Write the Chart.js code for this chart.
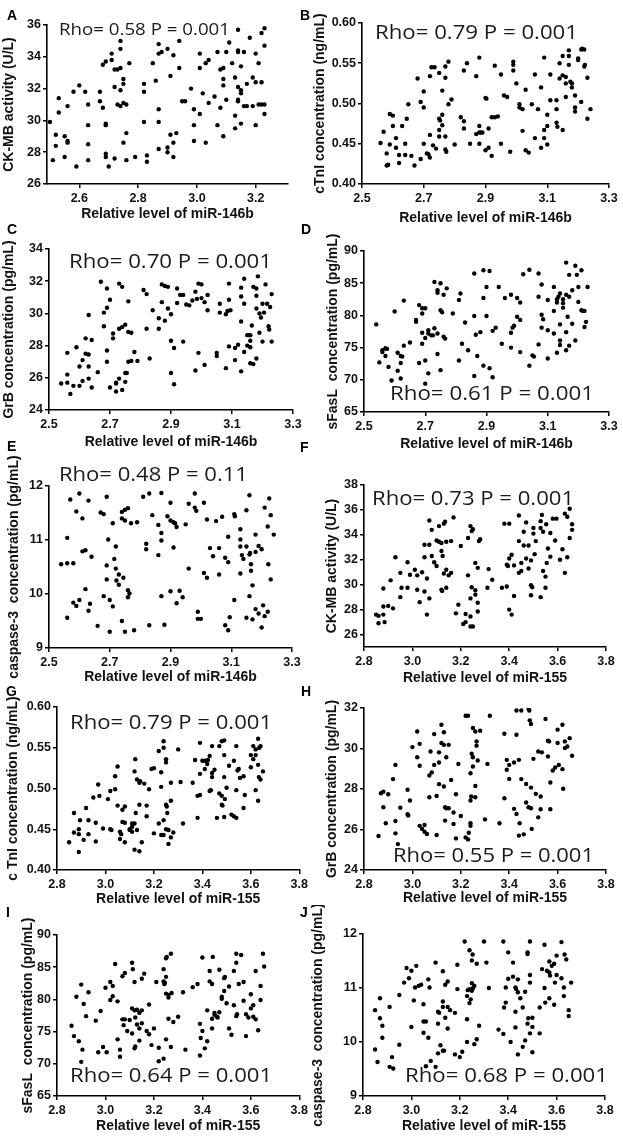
<!DOCTYPE html>
<html><head><meta charset="utf-8">
<script src="https://cdn.jsdelivr.net/npm/chart.js@4.4.1/dist/chart.umd.min.js"></script>
<style>
html,body{margin:0;padding:0;background:#fff;}
body{width:623px;height:1144px;position:relative;overflow:hidden;}
canvas{position:absolute;}
.lab{position:absolute;font:bold 14px "Liberation Sans",Arial,sans-serif;line-height:1;color:#000;}
.rho{position:absolute;font-family:"Open Sans",sans-serif;line-height:1;color:#1a1a1a;white-space:pre;transform-origin:0 0;}
</style></head><body>
<script>
// ---------- DATA ----------
const xTitle146b = "Relative level of miR-146b";
const xTitle155 = "Relative level of miR-155";
const yTitles = ["CK-MB activity (U/L)","cTnI concentration (ng/mL)","GrB concentration (pg/mL)","sFasL  concentration (pg/mL)","caspase-3  concentration (pg/mL)","CK-MB activity (U/L)","c TnI concentration (ng/mL)","GrB concentration (pg/mL)","sFasL  concentration (pg/mL)","caspase-3  concentration (pg/mL)"];
const panelLetters = ["A","B","C","D","E","F","G","H","I","J"];
const rhoTexts = ["Rho= 0.58 P = 0.001","Rho= 0.79 P = 0.001","Rho= 0.70 P = 0.001","Rho= 0.61 P = 0.001","Rho= 0.48 P = 0.11","Rho= 0.73 P = 0.001","Rho= 0.79 P = 0.001","Rho= 0.55 P = 0.001","Rho= 0.64 P = 0.001","Rho= 0.68 P = 0.001"];

const xTicksA = [2.6,2.8,3.0,3.2];
const xTicks146b = [2.5,2.7,2.9,3.1,3.3];
const xTicks155 = [2.8,3.0,3.2,3.4,3.6,3.8];
const yTicksCKMB146 = [26,28,30,32,34,36];
const yTicksCTnI = [0.40,0.45,0.50,0.55,0.60];
const yTicksGrB146 = [24,26,28,30,32,34];
const yTicksSFasL = [65,70,75,80,85,90];
const yTicksCasp = [9,10,11,12];
const yTicksCKMB155 = [26,28,30,32,34,36,38];
const yTicksGrB155 = [24,26,28,30,32];

const ckmb_146b = [[2.50,29.9],[2.51,27.5],[2.52,29.1],[2.52,28.4],[2.53,31.4],[2.53,30.5],[2.55,29.0],[2.55,27.7],[2.56,28.7],[2.56,30.9],[2.56,28.6],[2.58,31.8],[2.59,27.1],[2.60,32.2],[2.62,31.8],[2.63,31.0],[2.63,29.7],[2.63,28.5],[2.63,27.5],[2.67,31.8],[2.67,31.2],[2.68,33.5],[2.69,33.7],[2.71,33.8],[2.71,34.2],[2.68,30.8],[2.69,29.8],[2.69,29.7],[2.69,27.9],[2.69,27.7],[2.70,27.1],[2.72,33.2],[2.72,32.1],[2.73,33.2],[2.73,31.0],[2.74,30.9],[2.74,31.9],[2.74,35.0],[2.74,34.5],[2.74,33.3],[2.75,32.6],[2.75,32.3],[2.75,28.6],[2.75,31.1],[2.76,31.0],[2.76,29.2],[2.77,33.6],[2.76,27.5],[2.72,27.6],[2.79,27.7],[2.82,32.3],[2.82,31.8],[2.82,29.9],[2.83,27.4],[2.83,27.8],[2.85,33.6],[2.86,32.5],[2.87,34.2],[2.87,34.8],[2.87,30.7],[2.87,29.9],[2.87,28.2],[2.88,34.3],[2.90,34.5],[2.90,28.0],[2.90,28.3],[2.91,32.8],[2.91,29.1],[2.92,28.6],[2.92,34.1],[2.92,27.7],[2.93,29.2],[2.94,35.0],[2.94,33.3],[2.95,31.2],[2.96,31.2],[2.98,32.0],[2.99,29.7],[2.99,30.7],[2.99,28.7],[3.01,34.2],[3.01,33.3],[3.01,30.4],[3.02,31.7],[3.03,28.6],[3.03,33.6],[3.04,33.8],[3.04,31.1],[3.06,31.5],[3.07,29.7],[3.07,34.3],[3.08,30.8],[3.08,33.2],[3.09,32.2],[3.09,33.3],[3.09,32.6],[3.09,29.0],[3.10,31.3],[3.10,34.3],[3.11,34.9],[3.12,33.6],[3.13,30.3],[3.13,32.7],[3.13,29.5],[3.14,35.7],[3.14,34.4],[3.14,34.3],[3.14,31.3],[3.14,31.2],[3.14,32.1],[3.15,29.8],[3.15,33.4],[3.15,31.9],[3.15,31.7],[3.16,34.3],[3.16,30.9],[3.17,30.9],[3.17,32.3],[3.18,35.2],[3.19,30.9],[3.19,32.7],[3.20,34.2],[3.20,29.7],[3.21,33.6],[3.20,32.4],[3.21,31.0],[3.22,31.0],[3.23,31.0],[3.22,35.5],[3.22,32.4],[3.23,34.7],[3.23,30.4],[3.23,35.8]];

const ctni_146b = [[2.56,0.451],[2.57,0.465],[2.58,0.438],[2.58,0.423],[2.585,0.424],[2.59,0.449],[2.59,0.487],[2.60,0.485],[2.60,0.472],[2.61,0.457],[2.61,0.445],[2.62,0.436],[2.62,0.426],[2.63,0.472],[2.64,0.450],[2.64,0.436],[2.645,0.481],[2.65,0.499],[2.66,0.435],[2.67,0.423],[2.68,0.531],[2.69,0.502],[2.69,0.431],[2.70,0.515],[2.70,0.450],[2.70,0.495],[2.71,0.438],[2.715,0.437],[2.72,0.534],[2.72,0.461],[2.72,0.433],[2.725,0.545],[2.735,0.545],[2.73,0.448],[2.74,0.444],[2.75,0.538],[2.75,0.481],[2.753,0.479],[2.75,0.467],[2.75,0.459],[2.76,0.516],[2.76,0.473],[2.76,0.486],[2.77,0.546],[2.77,0.532],[2.77,0.459],[2.77,0.443],[2.773,0.440],[2.78,0.552],[2.78,0.499],[2.79,0.505],[2.80,0.449],[2.82,0.483],[2.83,0.469],[2.83,0.478],[2.83,0.541],[2.84,0.550],[2.85,0.450],[2.87,0.462],[2.87,0.534],[2.88,0.557],[2.88,0.472],[2.88,0.450],[2.88,0.464],[2.885,0.464],[2.89,0.464],[2.90,0.507],[2.903,0.506],[2.90,0.442],[2.91,0.445],[2.91,0.469],[2.92,0.483],[2.92,0.435],[2.93,0.483],[2.94,0.484],[2.93,0.547],[2.95,0.536],[2.95,0.450],[2.96,0.510],[2.97,0.508],[2.98,0.440],[2.99,0.548],[2.99,0.552],[2.99,0.541],[3.00,0.525],[3.01,0.499],[3.01,0.495],[3.02,0.466],[3.02,0.493],[3.03,0.517],[3.03,0.442],[3.04,0.439],[3.05,0.499],[3.06,0.536],[3.06,0.457],[3.07,0.493],[3.08,0.520],[3.08,0.445],[3.09,0.557],[3.09,0.457],[3.09,0.467],[3.10,0.472],[3.10,0.449],[3.10,0.486],[3.11,0.504],[3.11,0.536],[3.13,0.504],[3.13,0.493],[3.13,0.476],[3.133,0.471],[3.14,0.550],[3.14,0.531],[3.15,0.559],[3.15,0.467],[3.15,0.535],[3.16,0.533],[3.16,0.508],[3.16,0.525],[3.17,0.548],[3.17,0.559],[3.17,0.566],[3.175,0.527],[3.18,0.520],[3.18,0.525],[3.19,0.490],[3.19,0.495],[3.19,0.510],[3.20,0.554],[3.20,0.556],[3.21,0.567],[3.21,0.502],[3.213,0.568],[3.22,0.546],[3.22,0.567],[3.222,0.548],[3.23,0.532],[3.23,0.481],[3.24,0.493]];

const grb_146b = [[2.54,25.65],[2.56,26.2],[2.56,27.55],[2.56,25.7],[2.57,25.0],[2.58,25.5],[2.59,27.9],[2.60,25.5],[2.60,26.7],[2.61,25.8],[2.61,27.1],[2.62,27.5],[2.62,28.45],[2.63,27.45],[2.63,26.7],[2.63,25.95],[2.63,29.9],[2.64,28.35],[2.64,25.4],[2.66,26.35],[2.67,31.97],[2.68,29.2],[2.68,30.05],[2.69,31.55],[2.69,30.35],[2.69,27.7],[2.69,27.0],[2.70,30.85],[2.70,25.4],[2.71,28.75],[2.71,28.45],[2.72,25.7],[2.72,25.15],[2.72,25.65],[2.73,29.05],[2.73,31.85],[2.73,25.95],[2.74,29.15],[2.74,31.65],[2.74,25.25],[2.75,26.3],[2.755,26.3],[2.75,29.3],[2.75,25.75],[2.76,28.85],[2.76,30.75],[2.76,27.0],[2.77,28.8],[2.77,27.05],[2.78,27.6],[2.79,27.05],[2.81,31.45],[2.82,31.2],[2.82,29.05],[2.83,27.2],[2.84,30.2],[2.86,29.7],[2.86,29.05],[2.87,31.8],[2.88,29.55],[2.88,31.7],[2.87,30.7],[2.89,31.65],[2.89,30.3],[2.90,29.95],[2.90,26.3],[2.90,28.3],[2.91,25.6],[2.91,27.85],[2.92,30.65],[2.92,31.55],[2.93,31.15],[2.94,31.15],[2.94,28.25],[2.95,30.55],[2.96,30.5],[2.97,30.8],[2.98,31.35],[2.98,26.45],[2.985,30.9],[2.99,31.85],[2.99,27.55],[3.00,31.8],[3.00,30.95],[3.01,26.8],[3.01,30.7],[3.02,31.15],[3.02,30.2],[3.05,27.35],[3.05,27.55],[3.06,30.6],[3.06,30.05],[3.08,26.6],[3.08,29.95],[3.085,30.15],[3.09,30.85],[3.09,27.95],[3.09,31.85],[3.095,30.2],[3.11,27.85],[3.12,28.05],[3.11,27.1],[3.13,31.6],[3.13,31.05],[3.13,29.5],[3.14,27.6],[3.13,26.4],[3.14,32.15],[3.14,30.6],[3.15,28.65],[3.155,28.65],[3.15,28.0],[3.16,28.65],[3.16,28.3],[3.16,27.9],[3.165,29.25],[3.16,26.9],[3.17,26.85],[3.17,31.65],[3.18,31.1],[3.18,31.55],[3.18,27.2],[3.18,30.3],[3.185,32.3],[3.19,28.8],[3.19,30.0],[3.195,29.75],[3.20,30.6],[3.20,28.25],[3.205,30.05],[3.21,31.8],[3.215,30.6],[3.22,29.2],[3.222,29.0],[3.225,30.4],[3.23,31.2],[3.23,28.25]];

const sfasl_146b = [[2.54,78.6],[2.55,72.7],[2.56,74.3],[2.56,74.6],[2.57,74.9],[2.57,73.7],[2.575,74.8],[2.58,72.0],[2.59,69.9],[2.60,80.6],[2.61,71.4],[2.61,74.2],[2.62,73.7],[2.62,72.6],[2.625,73.6],[2.62,70.2],[2.63,75.3],[2.63,82.3],[2.65,75.8],[2.67,79.0],[2.67,79.3],[2.68,72.6],[2.68,81.6],[2.69,81.1],[2.69,80.3],[2.69,77.3],[2.69,75.6],[2.70,76.5],[2.70,73.0],[2.70,81.1],[2.70,69.4],[2.71,77.7],[2.71,77.2],[2.71,71.0],[2.72,76.9],[2.725,76.9],[2.73,78.0],[2.73,85.2],[2.74,83.9],[2.74,83.5],[2.74,77.2],[2.74,74.0],[2.75,85.0],[2.75,80.8],[2.75,71.5],[2.755,80.5],[2.76,76.7],[2.76,83.2],[2.765,76.4],[2.77,84.2],[2.79,80.3],[2.81,82.4],[2.81,73.0],[2.815,83.4],[2.82,75.6],[2.83,78.9],[2.84,74.6],[2.86,86.5],[2.86,70.6],[2.865,77.0],[2.86,79.9],[2.87,73.7],[2.88,77.4],[2.89,87.0],[2.89,82.7],[2.89,72.2],[2.90,84.4],[2.90,79.9],[2.91,86.9],[2.91,71.8],[2.92,70.4],[2.92,77.6],[2.93,78.1],[2.94,84.4],[2.95,75.6],[2.96,82.7],[2.98,83.2],[2.98,77.3],[2.985,78.1],[2.99,78.4],[2.98,75.0],[3.00,82.7],[3.00,79.8],[3.01,79.3],[3.01,82.0],[3.01,74.3],[3.02,86.4],[3.04,87.1],[3.04,72.2],[3.05,73.8],[3.055,73.6],[3.07,82.9],[3.07,75.5],[3.07,86.5],[3.08,80.1],[3.08,84.8],[3.085,79.4],[3.08,78.1],[3.10,73.3],[3.10,77.7],[3.10,82.4],[3.12,80.7],[3.12,84.4],[3.12,77.2],[3.13,82.0],[3.13,82.5],[3.135,82.9],[3.13,74.2],[3.14,83.4],[3.14,76.1],[3.14,78.6],[3.14,75.4],[3.15,81.9],[3.15,81.2],[3.15,82.5],[3.16,83.2],[3.16,74.6],[3.16,77.4],[3.165,79.8],[3.16,88.2],[3.17,86.3],[3.17,82.9],[3.17,75.3],[3.18,78.7],[3.18,83.9],[3.19,76.1],[3.19,87.7],[3.195,86.3],[3.20,84.4],[3.20,82.1],[3.21,80.8],[3.21,87.0],[3.215,80.7],[3.22,78.2],[3.22,80.7],[3.225,79.0],[3.23,84.4]];

const casp_146b = [[2.54,10.55],[2.56,10.57],[2.56,11.04],[2.56,9.56],[2.57,11.75],[2.58,9.84],[2.58,10.57],[2.59,9.78],[2.59,11.53],[2.60,11.86],[2.60,9.89],[2.61,11.40],[2.61,10.79],[2.62,10.81],[2.62,10.09],[2.63,11.73],[2.63,9.69],[2.635,9.82],[2.64,10.69],[2.66,9.41],[2.67,11.51],[2.68,11.48],[2.68,9.96],[2.69,10.53],[2.69,10.27],[2.69,11.80],[2.695,11.01],[2.70,9.89],[2.70,9.30],[2.71,9.77],[2.71,11.31],[2.715,10.65],[2.72,10.47],[2.72,10.88],[2.722,10.25],[2.73,10.36],[2.73,10.17],[2.74,11.52],[2.74,11.40],[2.745,10.30],[2.74,9.50],[2.75,11.36],[2.75,11.56],[2.75,9.30],[2.76,10.07],[2.76,11.59],[2.76,9.94],[2.765,10.01],[2.77,11.31],[2.78,9.33],[2.79,11.33],[2.81,11.80],[2.82,10.83],[2.82,10.93],[2.83,11.86],[2.83,9.42],[2.84,11.46],[2.86,10.72],[2.86,11.28],[2.87,11.13],[2.87,10.99],[2.87,11.87],[2.87,9.96],[2.88,9.43],[2.89,11.44],[2.90,11.69],[2.90,10.05],[2.90,11.36],[2.91,10.86],[2.91,11.33],[2.915,11.31],[2.92,11.24],[2.92,9.83],[2.93,10.06],[2.94,9.94],[2.95,11.29],[2.96,10.47],[2.96,11.67],[2.98,11.86],[2.98,11.60],[2.985,11.54],[2.99,9.67],[2.99,9.54],[3.00,9.54],[3.01,10.39],[3.01,11.69],[3.02,10.30],[3.02,11.38],[3.03,10.85],[3.04,10.70],[3.05,11.35],[3.06,10.85],[3.06,10.36],[3.07,11.43],[3.08,9.42],[3.08,10.67],[3.09,10.59],[3.09,11.06],[3.09,9.33],[3.095,9.57],[3.11,11.48],[3.112,11.44],[3.11,9.89],[3.13,11.20],[3.13,11.01],[3.13,10.88],[3.135,10.72],[3.13,10.38],[3.14,10.65],[3.15,11.55],[3.15,10.88],[3.15,9.56],[3.16,10.73],[3.16,11.83],[3.162,10.76],[3.16,9.96],[3.165,10.55],[3.165,10.43],[3.17,9.53],[3.17,10.16],[3.18,11.10],[3.18,9.72],[3.18,10.78],[3.19,9.64],[3.19,10.89],[3.20,10.83],[3.20,9.38],[3.205,9.79],[3.21,9.59],[3.21,11.60],[3.22,11.25],[3.22,9.67],[3.222,10.55],[3.225,11.77],[3.23,11.46],[3.23,10.27],[3.24,11.10]];

const ckmb_155 = [[2.85,27.6],[2.86,26.9],[2.86,27.5],[2.88,28.25],[2.88,29.7],[2.88,27.6],[2.885,27.0],[2.90,28.3],[2.91,30.35],[2.92,28.1],[2.93,32.2],[2.95,30.95],[2.95,29.0],[2.955,29.75],[2.98,29.75],[2.98,31.8],[2.99,30.8],[3.01,31.2],[3.02,30.75],[3.02,29.6],[3.03,28.6],[3.04,31.0],[3.05,32.2],[3.05,33.2],[3.05,29.45],[3.06,30.5],[3.06,27.6],[3.07,33.2],[3.07,28.9],[3.07,35.15],[3.08,34.4],[3.08,32.3],[3.09,31.8],[3.10,33.55],[3.10,31.5],[3.11,34.7],[3.11,33.45],[3.12,29.6],[3.123,29.5],[3.12,33.35],[3.12,32.7],[3.125,32.3],[3.13,34.9],[3.13,30.9],[3.135,35.05],[3.14,33.45],[3.14,29.75],[3.14,31.2],[3.15,30.75],[3.16,30.95],[3.16,33.5],[3.17,35.4],[3.18,27.7],[3.19,28.4],[3.20,33.1],[3.21,26.85],[3.22,27.0],[3.22,27.65],[3.23,33.75],[3.23,30.75],[3.24,28.9],[3.24,26.65],[3.24,27.45],[3.24,34.7],[3.245,34.3],[3.245,29.8],[3.25,26.65],[3.25,34.45],[3.26,31.75],[3.26,29.55],[3.26,29.2],[3.27,31.35],[3.27,27.85],[3.27,28.55],[3.275,33.5],[3.28,33.65],[3.31,29.75],[3.315,31.25],[3.33,30.4],[3.37,29.75],[3.38,34.9],[3.39,29.85],[3.39,31.6],[3.395,31.5],[3.40,34.9],[3.40,28.0],[3.40,32.1],[3.41,32.4],[3.41,27.6],[3.42,29.1],[3.42,31.55],[3.44,35.55],[3.44,33.5],[3.44,30.95],[3.45,31.75],[3.45,31.1],[3.46,33.15],[3.46,34.25],[3.47,32.1],[3.47,35.0],[3.48,33.15],[3.48,31.3],[3.49,31.95],[3.49,29.95],[3.49,29.15],[3.495,29.8],[3.50,34.1],[3.50,34.55],[3.505,32.45],[3.51,33.5],[3.53,34.55],[3.53,35.1],[3.535,35.6],[3.53,29.0],[3.54,31.1],[3.54,34.25],[3.55,30.65],[3.55,29.75],[3.553,34.85],[3.555,31.75],[3.56,32.9],[3.57,32.25],[3.57,34.15],[3.58,35.3],[3.59,33.55],[3.595,35.3],[3.61,32.0],[3.62,32.85],[3.63,30.95],[3.63,35.7],[3.64,35.45],[3.64,32.2],[3.65,36.1],[3.65,33.75],[3.66,34.4],[3.66,34.85]];

const ctni_155 = [[2.85,0.434],[2.87,0.446],[2.87,0.470],[2.89,0.422],[2.89,0.450],[2.89,0.444],[2.895,0.461],[2.91,0.437],[2.92,0.476],[2.93,0.461],[2.93,0.444],[2.95,0.489],[2.96,0.458],[2.96,0.435],[2.97,0.505],[2.975,0.491],[2.99,0.451],[3.01,0.487],[3.02,0.497],[3.02,0.450],[3.025,0.449],[3.04,0.499],[3.04,0.515],[3.05,0.479],[3.05,0.527],[3.06,0.447],[3.06,0.438],[3.065,0.444],[3.07,0.474],[3.07,0.459],[3.08,0.458],[3.08,0.478],[3.08,0.434],[3.10,0.450],[3.10,0.449],[3.11,0.447],[3.11,0.457],[3.11,0.453],[3.12,0.521],[3.12,0.457],[3.12,0.425],[3.123,0.536],[3.125,0.470],[3.13,0.449],[3.13,0.511],[3.14,0.507],[3.14,0.423],[3.14,0.480],[3.143,0.509],[3.15,0.434],[3.16,0.506],[3.17,0.479],[3.17,0.466],[3.18,0.499],[3.19,0.524],[3.20,0.445],[3.20,0.525],[3.22,0.546],[3.22,0.457],[3.23,0.502],[3.23,0.520],[3.23,0.443],[3.24,0.558],[3.24,0.443],[3.24,0.550],[3.24,0.461],[3.25,0.536],[3.25,0.532],[3.25,0.480],[3.25,0.450],[3.253,0.478],[3.255,0.470],[3.26,0.432],[3.26,0.449],[3.27,0.440],[3.27,0.507],[3.27,0.485],[3.28,0.446],[3.30,0.548],[3.31,0.508],[3.32,0.457],[3.36,0.507],[3.37,0.535],[3.38,0.464],[3.38,0.491],[3.39,0.492],[3.39,0.556],[3.39,0.518],[3.40,0.534],[3.41,0.524],[3.41,0.534],[3.42,0.530],[3.423,0.535],[3.43,0.497],[3.43,0.540],[3.435,0.498],[3.44,0.519],[3.44,0.514],[3.44,0.552],[3.45,0.523],[3.46,0.464],[3.47,0.552],[3.47,0.494],[3.48,0.480],[3.48,0.491],[3.48,0.558],[3.483,0.479],[3.49,0.559],[3.49,0.514],[3.49,0.541],[3.493,0.487],[3.49,0.465],[3.50,0.501],[3.51,0.528],[3.52,0.468],[3.53,0.466],[3.53,0.534],[3.54,0.498],[3.54,0.464],[3.54,0.552],[3.545,0.522],[3.55,0.524],[3.555,0.513],[3.57,0.515],[3.57,0.476],[3.575,0.492],[3.60,0.526],[3.60,0.541],[3.61,0.552],[3.61,0.536],[3.62,0.541],[3.62,0.548],[3.62,0.498],[3.63,0.561],[3.63,0.529],[3.63,0.485],[3.633,0.514],[3.635,0.550],[3.64,0.511],[3.64,0.552],[3.65,0.521]];

const grb_155 = [[2.86,25.68],[2.87,27.79],[2.88,27.87],[2.88,27.10],[2.89,26.31],[2.90,27.74],[2.92,28.49],[2.93,29.19],[2.93,25.81],[2.93,26.42],[2.94,25.28],[2.95,27.08],[2.98,27.96],[2.98,26.75],[2.983,26.69],[2.99,27.43],[3.00,30.07],[3.02,29.57],[3.02,30.84],[3.03,30.23],[3.03,29.15],[3.03,26.18],[3.04,26.03],[3.05,26.22],[3.05,25.89],[3.06,25.78],[3.07,27.59],[3.07,28.67],[3.075,29.85],[3.08,28.82],[3.09,30.71],[3.09,29.19],[3.10,25.73],[3.10,27.66],[3.11,29.81],[3.11,29.31],[3.11,28.24],[3.12,31.17],[3.12,30.27],[3.13,30.80],[3.13,28.12],[3.13,30.18],[3.135,27.10],[3.135,26.44],[3.14,29.57],[3.14,27.05],[3.15,30.18],[3.15,27.05],[3.16,28.45],[3.17,26.27],[3.17,26.84],[3.18,25.56],[3.18,27.74],[3.19,29.24],[3.20,26.67],[3.22,31.62],[3.22,25.61],[3.23,31.62],[3.23,25.51],[3.233,25.84],[3.24,28.78],[3.24,26.18],[3.24,26.31],[3.24,27.43],[3.243,27.63],[3.245,29.74],[3.25,31.01],[3.25,29.57],[3.25,29.11],[3.26,28.15],[3.26,27.59],[3.26,30.84],[3.265,30.35],[3.265,30.14],[3.27,29.41],[3.28,30.88],[3.31,29.24],[3.30,26.50],[3.32,31.62],[3.36,26.31],[3.38,27.54],[3.38,30.73],[3.39,28.95],[3.39,29.44],[3.40,28.50],[3.40,29.19],[3.42,29.31],[3.42,27.02],[3.43,26.77],[3.43,30.68],[3.43,31.88],[3.44,25.70],[3.44,29.44],[3.443,26.31],[3.45,28.49],[3.45,31.88],[3.46,25.76],[3.47,28.25],[3.47,27.33],[3.48,31.95],[3.48,27.10],[3.483,31.88],[3.485,31.39],[3.49,31.21],[3.49,27.05],[3.49,28.07],[3.493,26.03],[3.50,29.49],[3.51,27.76],[3.52,29.85],[3.52,26.60],[3.53,27.00],[3.53,27.63],[3.535,29.81],[3.55,31.46],[3.56,30.38],[3.565,30.35],[3.56,29.61],[3.57,27.00],[3.57,28.32],[3.58,28.91],[3.59,29.06],[3.60,30.93],[3.60,30.27],[3.605,29.19],[3.62,31.17],[3.62,28.98],[3.623,28.01],[3.63,30.35],[3.63,30.02],[3.64,30.10],[3.65,30.51],[3.66,29.64]];

const sfasl_155 = [[2.86,75.9],[2.87,74.3],[2.88,80.4],[2.89,73.5],[2.90,70.3],[2.90,82.3],[2.905,72.2],[2.91,79.3],[2.92,77.4],[2.93,81.1],[2.96,76.7],[2.97,71.8],[2.98,78.2],[2.99,72.6],[3.00,81.8],[3.005,71.8],[3.02,82.7],[3.02,79.9],[3.03,82.1],[3.03,80.5],[3.04,85.5],[3.05,73.8],[3.05,79.7],[3.06,72.2],[3.06,71.1],[3.07,76.9],[3.07,83.6],[3.075,76.0],[3.08,76.9],[3.08,84.1],[3.09,75.1],[3.10,76.8],[3.11,74.7],[3.11,85.7],[3.11,78.6],[3.113,84.7],[3.12,78.3],[3.12,82.7],[3.12,72.4],[3.123,72.7],[3.123,77.2],[3.13,78.4],[3.13,76.1],[3.14,73.6],[3.14,77.9],[3.14,75.5],[3.15,78.3],[3.15,76.3],[3.15,83.2],[3.16,84.0],[3.17,75.1],[3.18,79.2],[3.18,74.6],[3.19,72.9],[3.20,75.5],[3.21,82.7],[3.22,72.5],[3.22,70.4],[3.24,84.7],[3.24,82.8],[3.24,70.8],[3.243,82.4],[3.245,82.6],[3.25,80.9],[3.25,86.4],[3.25,83.5],[3.253,86.6],[3.25,73.8],[3.26,80.7],[3.26,80.3],[3.26,77.0],[3.27,72.6],[3.27,87.1],[3.273,81.0],[3.28,76.5],[3.30,77.3],[3.32,81.1],[3.33,72.2],[3.36,81.9],[3.38,82.4],[3.39,71.3],[3.39,76.2],[3.393,74.0],[3.40,86.5],[3.40,75.1],[3.41,72.4],[3.42,78.3],[3.42,73.5],[3.43,84.4],[3.43,82.8],[3.44,82.4],[3.44,77.0],[3.44,75.5],[3.443,86.6],[3.45,77.9],[3.45,77.6],[3.46,77.3],[3.463,77.2],[3.47,78.0],[3.47,84.6],[3.48,80.4],[3.48,80.1],[3.49,81.3],[3.49,83.3],[3.493,83.5],[3.50,79.4],[3.51,75.5],[3.51,82.0],[3.52,74.5],[3.53,79.1],[3.53,84.4],[3.54,85.7],[3.54,87.1],[3.54,77.4],[3.543,77.7],[3.55,82.4],[3.56,86.9],[3.57,79.8],[3.57,82.7],[3.58,77.7],[3.58,74.3],[3.59,77.2],[3.60,80.8],[3.60,78.6],[3.61,77.3],[3.61,79.1],[3.62,84.4],[3.62,76.9],[3.63,75.2],[3.64,82.1],[3.64,79.9],[3.65,87.1],[3.655,85.1]];

const casp_155 = [[2.85,10.59],[2.85,9.86],[2.86,9.63],[2.87,10.81],[2.87,10.44],[2.88,10.30],[2.88,10.08],[2.91,10.65],[2.91,9.54],[2.92,9.72],[2.925,9.51],[2.95,10.87],[2.95,9.95],[2.97,11.10],[2.98,11.37],[2.99,11.18],[3.00,10.28],[3.00,11.32],[3.01,10.77],[3.015,11.01],[3.02,11.41],[3.03,11.04],[3.04,11.06],[3.05,10.38],[3.05,10.70],[3.05,10.17],[3.06,10.38],[3.06,9.55],[3.07,10.08],[3.07,11.16],[3.075,11.01],[3.08,9.65],[3.10,11.47],[3.10,9.54],[3.11,9.79],[3.11,10.56],[3.11,10.34],[3.115,10.54],[3.12,9.94],[3.13,10.65],[3.13,10.75],[3.13,9.84],[3.13,11.31],[3.135,9.84],[3.14,10.45],[3.14,11.06],[3.15,10.25],[3.15,11.12],[3.15,10.65],[3.16,10.59],[3.18,9.77],[3.18,10.54],[3.19,10.98],[3.19,11.43],[3.20,9.72],[3.21,9.82],[3.22,11.86],[3.23,10.42],[3.23,10.00],[3.23,10.85],[3.233,10.96],[3.24,11.70],[3.24,10.98],[3.24,10.72],[3.245,10.79],[3.25,11.51],[3.25,11.09],[3.25,10.95],[3.253,11.62],[3.255,11.00],[3.26,11.04],[3.26,9.96],[3.27,10.05],[3.27,11.45],[3.28,10.30],[3.30,11.86],[3.31,11.47],[3.32,11.00],[3.36,10.23],[3.38,10.15],[3.38,11.86],[3.383,10.64],[3.39,10.73],[3.39,11.01],[3.40,11.17],[3.40,11.66],[3.41,10.00],[3.42,11.21],[3.42,11.47],[3.43,11.01],[3.43,10.27],[3.43,10.56],[3.433,10.98],[3.44,11.16],[3.44,10.92],[3.44,9.77],[3.45,10.81],[3.46,9.91],[3.46,10.64],[3.47,10.03],[3.47,10.93],[3.48,11.66],[3.48,11.63],[3.48,10.34],[3.483,10.44],[3.49,11.86],[3.49,11.10],[3.49,11.24],[3.49,10.16],[3.50,10.45],[3.50,9.81],[3.50,10.28],[3.53,10.64],[3.53,10.16],[3.54,11.35],[3.55,11.00],[3.55,11.80],[3.553,10.73],[3.56,11.32],[3.57,11.49],[3.57,11.29],[3.57,10.81],[3.573,11.23],[3.58,11.41],[3.59,10.69],[3.59,11.45],[3.593,11.10],[3.60,11.24],[3.60,11.60],[3.62,11.85],[3.62,11.18],[3.63,11.01],[3.63,10.85],[3.633,11.62],[3.64,11.53],[3.65,10.59],[3.65,10.48],[3.66,11.10]];

const seriesList = [ckmb_146b, ctni_146b, grb_146b, sfasl_146b, casp_146b, ckmb_155, ctni_155, grb_155, sfasl_155, casp_155];
const xTickSets = [xTicksA, xTicks146b, xTicks146b, xTicks146b, xTicks146b, xTicks155, xTicks155, xTicks155, xTicks155, xTicks155];
const yTickSets = [yTicksCKMB146, yTicksCTnI, yTicksGrB146, yTicksSFasL, yTicksCasp, yTicksCKMB155, yTicksCTnI, yTicksGrB155, yTicksSFasL, yTicksCasp];
const xRanges = [[2.49,3.31],[2.5,3.3],[2.5,3.3],[2.5,3.3],[2.5,3.3],[2.8,3.8],[2.8,3.8],[2.8,3.8],[2.8,3.8],[2.8,3.8]];
const yRanges = [[26,36],[0.40,0.60],[24,34],[65,90],[9,12],[25,38],[0.40,0.60],[24,32],[65,90],[9,12]];
const yDecimals = [0,2,0,0,0,0,2,0,0,0];

// ---------- LAYOUT (page pixels) ----------
// canvas box, plot box (L,T,R,B), x-title center y, y-title center x
const layoutBoxes = [
 {cx:0,  cy:0,   cw:311,ch:228, L:47, T:25, R:288,B:184, xtc:214, ytc:9},
 {cx:311,cy:0,   cw:312,ch:228, L:362,T:23, R:609,B:184, xtc:218, ytc:320},
 {cx:0,  cy:222, cw:311,ch:232, L:49, T:249,R:293,B:410, xtc:442, ytc:9},
 {cx:311,cy:222, cw:312,ch:232, L:364,T:251,R:609,B:412, xtc:444, ytc:333},
 {cx:0,  cy:440, cw:311,ch:246, L:49, T:486,R:292,B:648, xtc:677, ytc:14},
 {cx:311,cy:440, cw:312,ch:246, L:364,T:485,R:606,B:647, xtc:678, ytc:332},
 {cx:0,  cy:680, cw:311,ch:230, L:57, T:707,R:302,B:870, xtc:899, ytc:13},
 {cx:311,cy:680, cw:312,ch:230, L:364,T:708,R:606,B:870, xtc:898, ytc:332},
 {cx:0,  cy:905, cw:311,ch:239, L:57, T:935,R:300,B:1096,xtc:1126,ytc:28},
 {cx:311,cy:905, cw:312,ch:239, L:363,T:934,R:605,B:1096,xtc:1126,ytc:317}
];
const letterPos = [[7,10],[300,10],[7,224],[301,224],[7,441],[300,442],[6,686],[301,686],[6,907],[300,907]];
const rhoPos = [ // left, cap-center y, target width, font size
 [59,29.5,171,16.5],[375,31.5,203,20.5],[69,261,203,20.5],[390,393,204,20.5],[59,474,189,20.5],
 [372,498,202,20.5],[70,722,202,20.5],[393,855,201,20.5],[70,1075,202,20.5],[405,1075,203,20.5]];

const SANS = '"Liberation Sans", Arial, Helvetica, sans-serif';
const TITLE_FS = 14;

seriesList.forEach((series, i) => {
  const p = layoutBoxes[i];
  const cv = document.createElement('canvas');
  cv.width = p.cw; cv.height = p.ch;
  cv.style.left = p.cx + 'px'; cv.style.top = p.cy + 'px';
  cv.style.width = p.cw + 'px'; cv.style.height = p.ch + 'px';
  document.body.appendChild(cv);
  const yW = p.L - p.cx;
  const xH = p.xtc - p.B + TITLE_FS / 2;
  const xt = xTickSets[i], yt = yTickSets[i];
  const dec = yDecimals[i];
  new Chart(cv, {
    type: 'scatter',
    data: { datasets: [{
      data: series.map(d => ({x: d[0], y: d[1]})),
      pointRadius: 2.2, pointHoverRadius: 2.2, pointBackgroundColor: '#000',
      pointBorderWidth: 0, showLine: false
    }]},
    options: {
      responsive: false, animation: false, events: [],
      layout: { padding: { left: 0, top: p.T - p.cy, right: p.cx + p.cw - p.R, bottom: Math.max(0, p.cy + p.ch - (p.B + xH)) } },
      plugins: { legend: { display: false }, tooltip: { enabled: false } },
      scales: {
        x: {
          type: 'linear', position: 'bottom', min: xRanges[i][0], max: xRanges[i][1],
          afterBuildTicks: s => { s.ticks = xt.map(v => ({value: v})); },
          afterFit: s => { s.height = xH; },
          ticks: { callback: v => Number(v).toFixed(1), autoSkip: false, maxRotation: 0, padding: 3,
                   color: '#111', font: { family: SANS, size: 12.5, weight: 'bold' } },
          grid: { drawOnChartArea: false, drawTicks: true, tickLength: 4, color: '#000', lineWidth: 1.5 },
          border: { display: true, color: '#000', width: 1.6 },
          title: { display: true, text: i < 5 ? xTitle146b : xTitle155, color: '#111',
                   padding: { top: 0, bottom: 0 }, font: { family: SANS, size: TITLE_FS, weight: 'bold', lineHeight: 1 } }
        },
        y: {
          type: 'linear', position: 'left', min: yRanges[i][0], max: yRanges[i][1],
          afterBuildTicks: s => { s.ticks = yt.map(v => ({value: v})); },
          afterFit: s => { s.width = yW; },
          ticks: { callback: v => Number(v).toFixed(dec), autoSkip: false, padding: 2,
                   color: '#111', font: { family: SANS, size: 12.5, weight: 'bold' } },
          grid: { drawOnChartArea: false, drawTicks: true, tickLength: 4, color: '#000', lineWidth: 1.5 },
          border: { display: true, color: '#000', width: 1.6 },
          title: { display: true, text: yTitles[i], color: '#111',
                   padding: { top: Math.max(0, p.ytc - p.cx - TITLE_FS / 2), bottom: 0 },
                   font: { family: SANS, size: TITLE_FS, weight: 'bold', lineHeight: 1 } }
        }
      }
    }
  });
});

panelLetters.forEach((t, i) => {
  const d = document.createElement('div');
  d.className = 'lab'; d.textContent = t;
  d.style.left = letterPos[i][0] + 'px';
  d.style.top = (letterPos[i][1] - 2) + 'px';
  document.body.appendChild(d);
});

rhoTexts.forEach((t, i) => {
  const [left, cyc, tw, fs] = rhoPos[i];
  const d = document.createElement('div');
  d.className = 'rho'; d.textContent = t;
  d.style.fontSize = fs + 'px';
  d.style.left = left + 'px';
  d.style.top = (cyc - 0.531 * fs) + 'px';
  document.body.appendChild(d);
  const w = d.getBoundingClientRect().width;
  if (w > 0) d.style.transform = 'scaleX(' + (tw / w).toFixed(3) + ')';
});
</script>
</body></html>
